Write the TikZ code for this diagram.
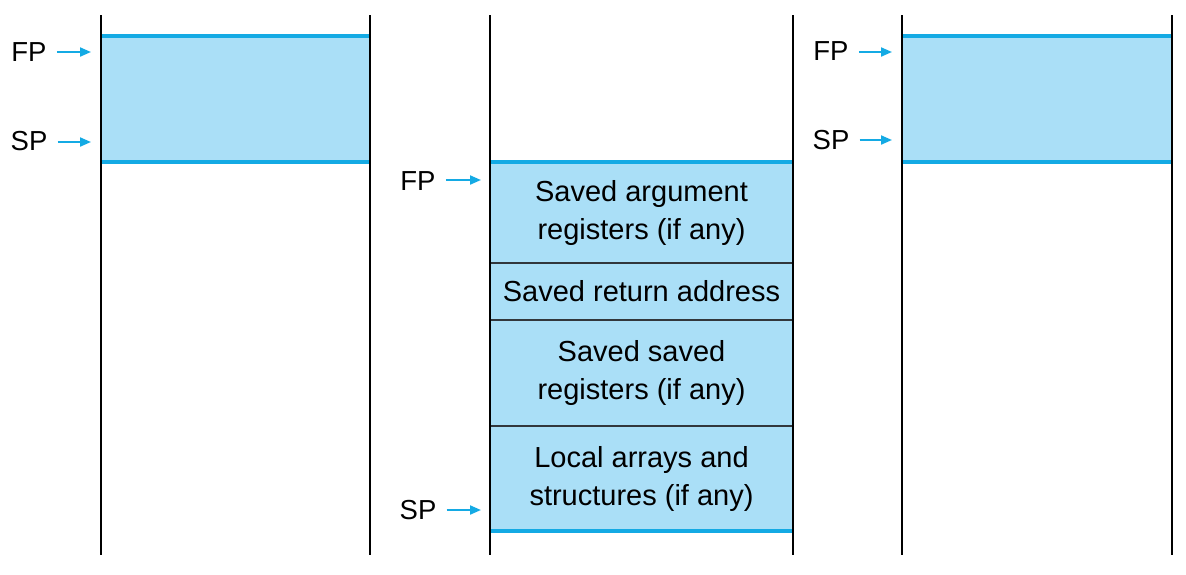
\documentclass[tikz,border=0pt]{standalone}
\usepackage{fontspec}
\setmainfont{Liberation Sans}
\usetikzlibrary{arrows.meta}
\definecolor{framefill}{RGB}{170,223,247}
\definecolor{edgeblue}{RGB}{20,170,228}
\definecolor{divgray}{RGB}{50,55,60}
\tikzset{
  stackline/.style={black, line width=1.6},
  cell/.style={fill=framefill, inner sep=0pt, minimum width=303, align=center,
    font=\fontsize{29}{38}\selectfont},
  block/.style={fill=framefill, inner sep=0pt, minimum width=269},
  edge/.style={edgeblue, line width=4},
  divider/.style={divgray, line width=2},
  lab/.style={font=\fontsize{27.5}{33}\selectfont, inner sep=0pt},
  ptr/.style={edgeblue, line width=2, shorten <=10, -{Triangle[length=11,width=9]}}
}
\begin{document}
\begin{tikzpicture}[x=1pt,y=-1pt]
\useasboundingbox (0,0) rectangle (1186,574);
% left frame
\node[block, minimum height=126] (lb) at (235.5,99) {};
\draw[edge] (lb.north west) -- (lb.north east);
\draw[edge] (lb.south west) -- (lb.south east);
% right frame
\node[block, minimum height=126] (rb) at (1037,99) {};
\draw[edge] (rb.north west) -- (rb.north east);
\draw[edge] (rb.south west) -- (rb.south east);
% middle frame
\node[cell, minimum height=101] (c1) at (641.5,212.5) {Saved argument\\registers (if any)};
\node[cell, minimum height=57] (c2) at (641.5,291.5) {Saved return address};
\node[cell, minimum height=106] (c3) at (641.5,373) {Saved saved\\registers (if any)};
\node[cell, minimum height=105] (c4) at (641.5,478.5) {Local arrays and\\structures (if any)};
\draw[divider] (c1.south west) -- (c1.south east);
\draw[divider] (c2.south west) -- (c2.south east);
\draw[divider] (c3.south west) -- (c3.south east);
\draw[edge] (c1.north west) -- (c1.north east);
\draw[edge] (c4.south west) -- (c4.south east);
% stack boundaries
\coordinate (l1t) at (101,15); \coordinate (l1b) at (101,555);
\coordinate (l2t) at (370,15); \coordinate (l2b) at (370,555);
\coordinate (m1t) at (490,15); \coordinate (m1b) at (490,555);
\coordinate (m2t) at (793,15); \coordinate (m2b) at (793,555);
\coordinate (r1t) at (902,15); \coordinate (r1b) at (902,555);
\coordinate (r2t) at (1172,15); \coordinate (r2b) at (1172,555);
\draw[stackline] (l1t) -- (l1b);
\draw[stackline] (l2t) -- (l2b);
\draw[stackline] (m1t) -- (m1b);
\draw[stackline] (m2t) -- (m2b);
\draw[stackline] (r1t) -- (r1b);
\draw[stackline] (r2t) -- (r2b);
% pointers
\node[lab] (fpL) at (29,52) {FP};
\node[lab] (spL) at (29,141) {SP};
\node[lab] (fpM) at (418,181) {FP};
\node[lab] (spM) at (418,510) {SP};
\node[lab] (fpR) at (831,51) {FP};
\node[lab] (spR) at (831,140) {SP};
\coordinate (fpLt) at (91,52);
\coordinate (spLt) at (91,142);
\coordinate (fpMt) at (481,180);
\coordinate (spMt) at (481,510);
\coordinate (fpRt) at (892,52);
\coordinate (spRt) at (892,140);
\draw[ptr] (fpLt -| fpL.east) -- (fpLt);
\draw[ptr] (spLt -| spL.east) -- (spLt);
\draw[ptr] (fpMt -| fpM.east) -- (fpMt);
\draw[ptr] (spMt -| spM.east) -- (spMt);
\draw[ptr] (fpRt -| fpR.east) -- (fpRt);
\draw[ptr] (spRt -| spR.east) -- (spRt);
\end{tikzpicture}
\end{document}
